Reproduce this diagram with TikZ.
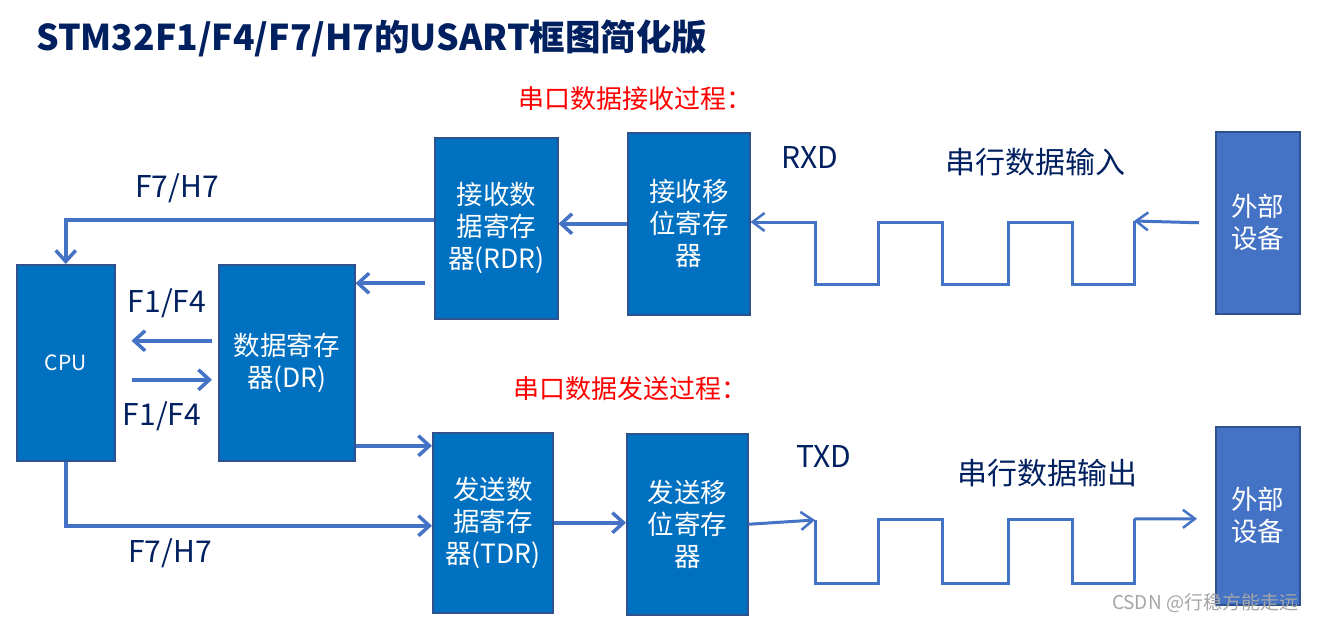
\documentclass[tikz,border=0pt]{standalone}
\usepackage{fontspec}
\setmainfont{Noto Sans CJK SC}
\usetikzlibrary{arrows.meta,calc}
\definecolor{boxblue}{HTML}{0070C0}
\definecolor{boxedge}{HTML}{2F528F}
\definecolor{extblue}{HTML}{4472C4}
\definecolor{linecol}{HTML}{4472C4}
\definecolor{navy}{HTML}{002060}
\definecolor{wmgray}{HTML}{A6A6A6}
\tikzset{
  regbox/.style={draw=boxedge, line width=1.5pt, fill=boxblue, text=white, align=center,
    anchor=north west, inner sep=0pt, font=\fontsize{26.5}{32}\selectfont},
  extbox/.style={regbox, fill=extblue},
  bigarr/.style={draw=linecol, line width=4pt, -{Straight Barb[length=11pt,width=20pt,line width=3.5pt]}},
  wave/.style={draw=linecol, line width=3pt},
  wavearr/.style={wave, -{Straight Barb[length=12pt,width=18pt,line width=2.5pt]}},
  lbl/.style={text=navy, font=\fontsize{30}{32}\selectfont, inner sep=0pt},
  redlbl/.style={text=red, font=\fontsize{26}{28}\selectfont, inner sep=0pt},
}
\begin{document}
\begin{tikzpicture}[x=1pt,y=-1pt]
\useasboundingbox (0,0) rectangle (1317,621);
\fill[white] (0,0) rectangle (1317,621);

% title
\node[anchor=west, text=navy, inner sep=0pt, font=\fontsize{35.5}{40}\selectfont\bfseries] (title) at (36,38) {STM32F1/F4/F7/H7的USART框图简化版};

% boxes
\node[regbox, minimum width=98pt, minimum height=196pt, font=\fontsize{21}{24}\selectfont] (cpu) at (16,264) {CPU};
\node[regbox, minimum width=136pt, minimum height=196pt] (dr) at (218,264) {数据寄存\\器(DR)};
\node[regbox, minimum width=123pt, minimum height=181pt] (rdr) at (434,137) {接收数\\据寄存\\器(RDR)};
\node[regbox, minimum width=122pt, minimum height=182pt] (rsr) at (627,132) {接收移\\位寄存\\器};
\node[extbox, minimum width=84pt, minimum height=182pt] (ext1) at (1215,131) {外部\\设备};
\node[regbox, minimum width=120pt, minimum height=180pt] (tdr) at (432,432) {发送数\\据寄存\\器(TDR)};
\node[regbox, minimum width=121pt, minimum height=181pt] (tsr) at (626,433) {发送移\\位寄存\\器};
\node[extbox, minimum width=84pt, minimum height=178pt] (ext2) at (1215,426) {外部\\设备};

% labels
\node[redlbl] (rxtitle) at (635,99) {串口数据接收过程：};
\node[redlbl] (txtitle) at (630,389) {串口数据发送过程：};
\node[lbl] (f7top) at (177,188) {F7/H7};
\node[lbl] (f1a) at (167,303) {F1/F4};
\node[lbl] (f1b) at (162,416) {F1/F4};
\node[lbl] (f7bot) at (170,553) {F7/H7};
\node[lbl] (rxd) at (810,158) {RXD};
\node[lbl, font=\fontsize{30}{32}\selectfont] (sin) at (1035,162) {串行数据输入};
\node[lbl] (txd) at (824,456) {TXD};
\node[lbl, font=\fontsize{30}{32}\selectfont] (sout) at (1047,473) {串行数据输出};
\node[text=wmgray, inner sep=0pt, font=\fontsize{19}{22}\selectfont] (wm) at (1205,603) {CSDN @行稳方能走远};

% receive path connectors
\draw[bigarr] (rsr.west) -- (rsr.west -| rdr.east);
\draw[bigarr] ([yshift=8pt]rdr.west) -| (cpu.north);
\draw[bigarr] ([shift={(-9pt,-55pt)}]rdr.west) coordinate (a1) -- (a1 -| dr.east);
% DR <-> CPU
\draw[bigarr] ([shift={(-6pt,22pt)}]dr.west) coordinate (a2) -- ([xshift=16pt]a2 -| cpu.east);
\draw[bigarr] ([shift={(16pt,-17pt)}]cpu.east) coordinate (a3) -- ([xshift=-6pt]a3 -| dr.west);
% transmit path connectors
\draw[bigarr] ([yshift=-83pt]dr.east) coordinate (a4) -- (a4 -| tdr.west);
\draw[bigarr] (cpu.south) |- ([yshift=-3pt]tdr.west);
\draw[bigarr] (tdr.east) -- (tdr.east -| tsr.west);

% receive waveform
\coordinate (rxstart) at (1134,221);
\draw[wavearr] ([xshift=-16pt]ext1.west) -- (rxstart);
\draw[wavearr] (rxstart) -- (1134,284) -- (1072,284) -- (1072,222) -- (1008,222) -- (1008,284)
  -- (942,284) -- (942,222) -- (878,222) -- (878,284) -- (815,284) -- (815,222) -- (rsr.east |- 815,222);

% transmit waveform
\coordinate (txstart) at (815,520);
\coordinate (txend) at (1134,519);
\draw[wavearr] (tsr.east) -- (txstart);
\draw[wave] (txstart) -- (815,583) -- (878,583) -- (878,519) -- (942,519) -- (942,583) -- (1008,583)
  -- (1008,519) -- (1072,519) -- (1072,583) -- (1134,583) -- (txend);
\draw[wavearr] (txend) -- ([xshift=-18pt,yshift=-3pt]ext2.west);
\end{tikzpicture}
\end{document}
